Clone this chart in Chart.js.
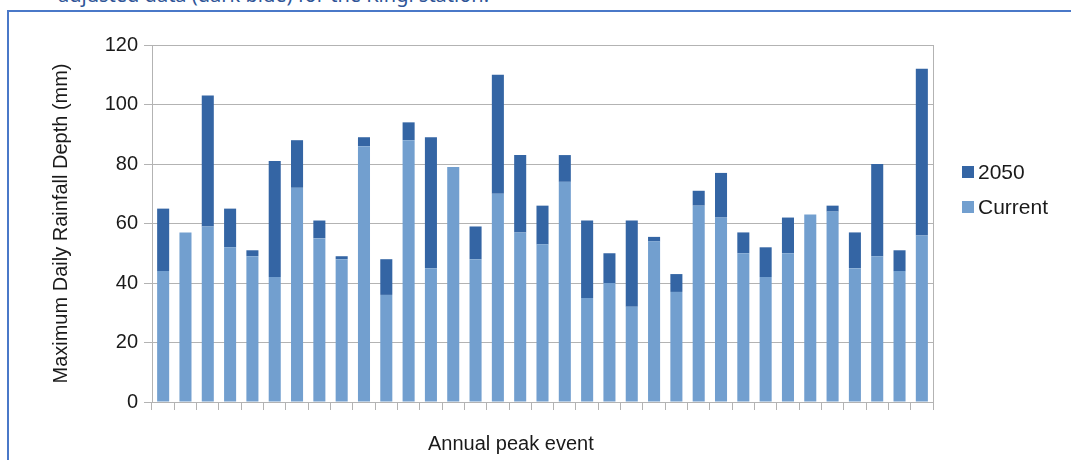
<!DOCTYPE html>
<html>
<head>
<meta charset="utf-8">
<script src="https://cdn.jsdelivr.net/npm/chart.js@4"></script>
<style>
  body { margin: 0; background: #fff; width: 1071px; height: 460px; overflow: hidden; position: relative; font-family: "Liberation Sans", Arial, sans-serif; }
  #caption { position: absolute; left: 58px; top: -19px; font: 20px "Noto Sans", sans-serif; color: #2f5597; white-space: nowrap; }
  #frame { position: absolute; left: 7px; top: 10px; width: 1200px; height: 600px; border-left: 2px solid #4a78c8; border-top: 2px solid #4a78c8; }
  #wrap { position: absolute; left: 0; top: 0; width: 1071px; height: 460px; }
  #xtitle { position: absolute; left: 428px; top: 432px; font-size: 20px; color: #1a1a1a; white-space: nowrap; }
  #legend { position: absolute; left: 962px; top: 154px; font-size: 21px; color: #1a1a1a; }
  #legend div { height: 35px; display: flex; align-items: center; }
  #legend span.box { width: 12px; height: 12px; margin-right: 4px; display: inline-block; }
</style>
</head>
<body>
<div id="caption">adjusted data (dark blue) for the Kingi station.</div>
<div id="frame"></div>
<div id="wrap"><canvas id="chart" width="1071" height="460"></canvas></div>
<div id="xtitle">Annual peak event</div>
<div id="legend"></div>
<script>
// annual peak events (35 years)
const events = ['1','2','3','4','5','6','7','8','9','10','11','12','13','14','15','16','17','18',
  '19','20','21','22','23','24','25','26','27','28','29','30','31','32','33','34','35'];

// current max daily rainfall depth (mm)
const current = [44, 57, 59, 52, 49, 42, 72, 55, 48, 86, 36, 88, 45, 79, 48, 70, 57, 53,
  74, 35, 40, 32, 54, 37, 66, 62, 50, 42, 50, 63, 64, 45, 49, 44, 56];

// 2050 adjusted depth (mm)
const future2050 = [65, 57, 103, 65, 51, 81, 88, 61, 49, 89, 48, 94, 89, 79, 59, 110, 83, 66,
  83, 61, 50, 61, 55.5, 43, 71, 77, 57, 52, 62, 63, 66, 57, 80, 51, 112];

const yTicks = [0, 20, 40, 60, 80, 100, 120];

const darkBlue = '#3465a4';
const lightBlue = '#729fcf';
const gridColor = '#b3b3b3';

// 2050 is drawn as the part on top of the current bar
const extra = future2050.map((v, i) => Math.max(0, v - current[i]));

new Chart(document.getElementById('chart'), {
  type: 'bar',
  data: {
    labels: events,
    datasets: [
      { label: 'Current', data: current, backgroundColor: lightBlue, barPercentage: 0.54, categoryPercentage: 1 },
      { label: '2050', data: extra, backgroundColor: darkBlue, barPercentage: 0.54, categoryPercentage: 1 }
    ]
  },
  options: {
    responsive: false,
    animation: false,
    layout: { padding: { left: 49, right: 138, top: 45, bottom: 0 } },
    plugins: { legend: { display: false }, tooltip: { enabled: false } },
    scales: {
      x: {
        stacked: true,
        grid: { drawOnChartArea: false, drawTicks: true, tickLength: 8, color: gridColor, offset: true },
        border: { color: gridColor },
        ticks: { display: false },
        afterFit: (s) => { s.height = 58; }
      },
      y: {
        stacked: true,
        min: 0,
        max: 120,
        afterBuildTicks: (s) => { s.ticks = yTicks.map(v => ({ value: v })); },
        ticks: { font: { family: 'Liberation Sans', size: 20 }, color: '#1a1a1a', padding: 6 },
        grid: { color: gridColor, tickLength: 8 },
        border: { color: gridColor },
        title: {
          display: true,
          text: 'Maximum Daily Rainfall Depth (mm)',
          font: { family: 'Liberation Sans', size: 20 },
          color: '#1a1a1a',
          padding: 0
        },
        afterFit: (s) => { s.width = 103; }
      },
      yRight: {
        position: 'right',
        min: 0,
        max: 120,
        ticks: { display: false },
        grid: { display: false },
        border: { display: true, color: gridColor },
        afterFit: (s) => { s.width = 0; }
      }
    }
  }
});

// legend, 2050 listed first like the original
const legend = document.getElementById('legend');
[['2050', darkBlue], ['Current', lightBlue]].forEach(([name, col]) => {
  const row = document.createElement('div');
  row.innerHTML = '<span class="box" style="background:' + col + '"></span>' + name;
  legend.appendChild(row);
});
</script>
</body>
</html>
